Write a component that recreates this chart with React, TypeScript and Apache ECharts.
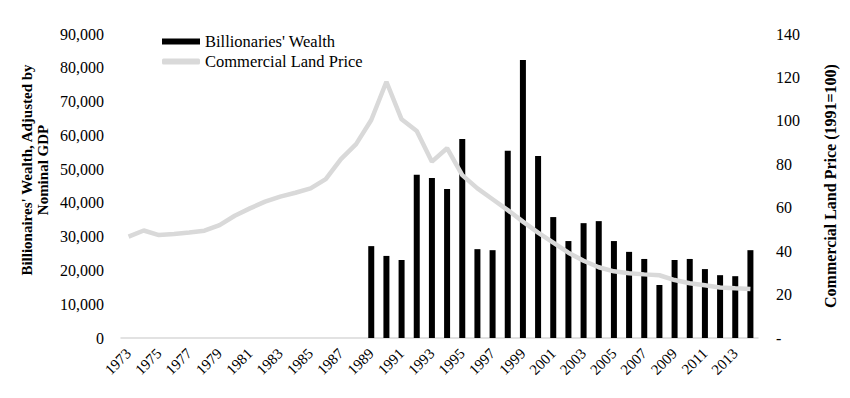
import React, { useEffect, useRef } from "react";
import * as echarts from "echarts";

const years: string[] = [];
for (let y = 1973; y <= 2014; y++) years.push(String(y));

// Billionaires' wealth (1973-1988 no data)
const wealth: (number | null)[] = [
  null, null, null, null, null, null, null, null, null, null, null, null, null, null, null, null,
  27200, 24300, 23100, 48300, 47400, 44100, 58900, 26300, 26000, 55400, 82300, 53900,
  35800, 28700, 34000, 34600, 28700, 25500, 23400, 15700, 23100, 23400, 20400, 18600, 18300, 26000,
];

// Commercial land price index (1991=100)
const landPrice: number[] = [
  46.7, 49.5, 47.4, 47.9, 48.6, 49.4, 52.0, 56.3, 59.7, 62.8, 65.1, 66.9, 68.9, 73.2, 82.4, 89.3,
  100.4, 118.0, 100.7, 95.3, 81.2, 87.4, 75.0, 68.9, 63.9, 58.9, 53.6, 48.5, 43.9, 39.3, 35.6,
  32.6, 30.7, 29.8, 29.3, 28.9, 26.7, 25.2, 24.3, 23.3, 22.9, 22.6,
];

const leftAxisName = ["Billionaires' Wealth, Adjusted by", "Nominal GDP"];
const rightAxisName = "Commercial Land Price (1991=100)";
const barName = "Billionaries' Wealth";
const lineName = "Commercial Land Price";

const FONT = "'Liberation Serif', 'DejaVu Serif', serif";

export default function App() {
  const ref = useRef<HTMLDivElement>(null);
  useEffect(() => {
    if (!ref.current) return;
    const chart = echarts.init(ref.current, undefined, { renderer: "svg" });
    chart.setOption({
      animation: false,
      backgroundColor: "#ffffff",
      textStyle: { fontFamily: FONT, color: "#000" },
      grid: { left: 121, right: 92, top: 34, bottom: 60 },
      legend: {
        orient: "vertical",
        left: 157,
        top: 28,
        itemWidth: 38,
        itemHeight: 6,
        itemGap: 3,
        textStyle: { fontFamily: FONT, fontSize: 16.5, color: "#000" },
        data: [
          { name: barName, icon: "rect" },
          { name: lineName, icon: "roundRect" },
        ],
      },
      graphic: [
        {
          type: "text",
          x: 35,
          y: 170,
          rotation: Math.PI / 2,
          style: {
            text: leftAxisName.join("\n"),
            align: "center",
            verticalAlign: "middle",
            fontFamily: FONT,
            fontWeight: "bold",
            fontSize: 15,
            lineHeight: 16,
            fill: "#000",
          },
        },
      ],
      xAxis: {
        type: "category",
        data: years,
        boundaryGap: true,
        axisLine: { lineStyle: { color: "#d9d9d9", width: 1.5 } },
        axisTick: { show: false },
        axisLabel: {
          interval: 1,
          rotate: 45,
          fontFamily: FONT,
          fontSize: 15,
          color: "#000",
          margin: 13,
        },
      },
      yAxis: [
        {
          type: "value",
          min: 0,
          max: 90000,
          interval: 10000,
          splitLine: { show: false },
          axisLine: { show: false },
          axisTick: { show: false },
          axisLabel: {
            fontFamily: FONT,
            fontSize: 16,
            color: "#000",
            margin: 17,
            formatter: (v: number) => v.toLocaleString("en-US"),
          },
        },
        {
          type: "value",
          min: 0,
          max: 140,
          interval: 20,
          position: "right",
          splitLine: { show: false },
          axisLine: { show: false },
          axisTick: { show: false },
          name: rightAxisName,
          nameLocation: "middle",
          nameGap: 64,
          nameRotate: 90,
          nameTextStyle: { fontFamily: FONT, fontWeight: "bold", fontSize: 16, color: "#000" },
          axisLabel: {
            fontFamily: FONT,
            fontSize: 16,
            color: "#000",
            margin: 18,
            formatter: (v: number) => (v === 0 ? "-" : String(v)),
          },
        },
      ],
      series: [
        {
          name: barName,
          type: "bar",
          data: wealth,
          yAxisIndex: 0,
          barWidth: 6,
          itemStyle: { color: "#000" },
        },
        {
          name: lineName,
          type: "line",
          data: landPrice,
          yAxisIndex: 1,
          symbol: "none",
          lineStyle: { color: "#d9d9d9", width: 4.5 },
          itemStyle: { color: "#d9d9d9" },
        },
      ],
    });
    return () => chart.dispose();
  }, []);
  return (
    <div
      ref={ref}
      style={{ position: "absolute", left: 0, top: 0, width: 850, height: 398 }}
    />
  );
}
